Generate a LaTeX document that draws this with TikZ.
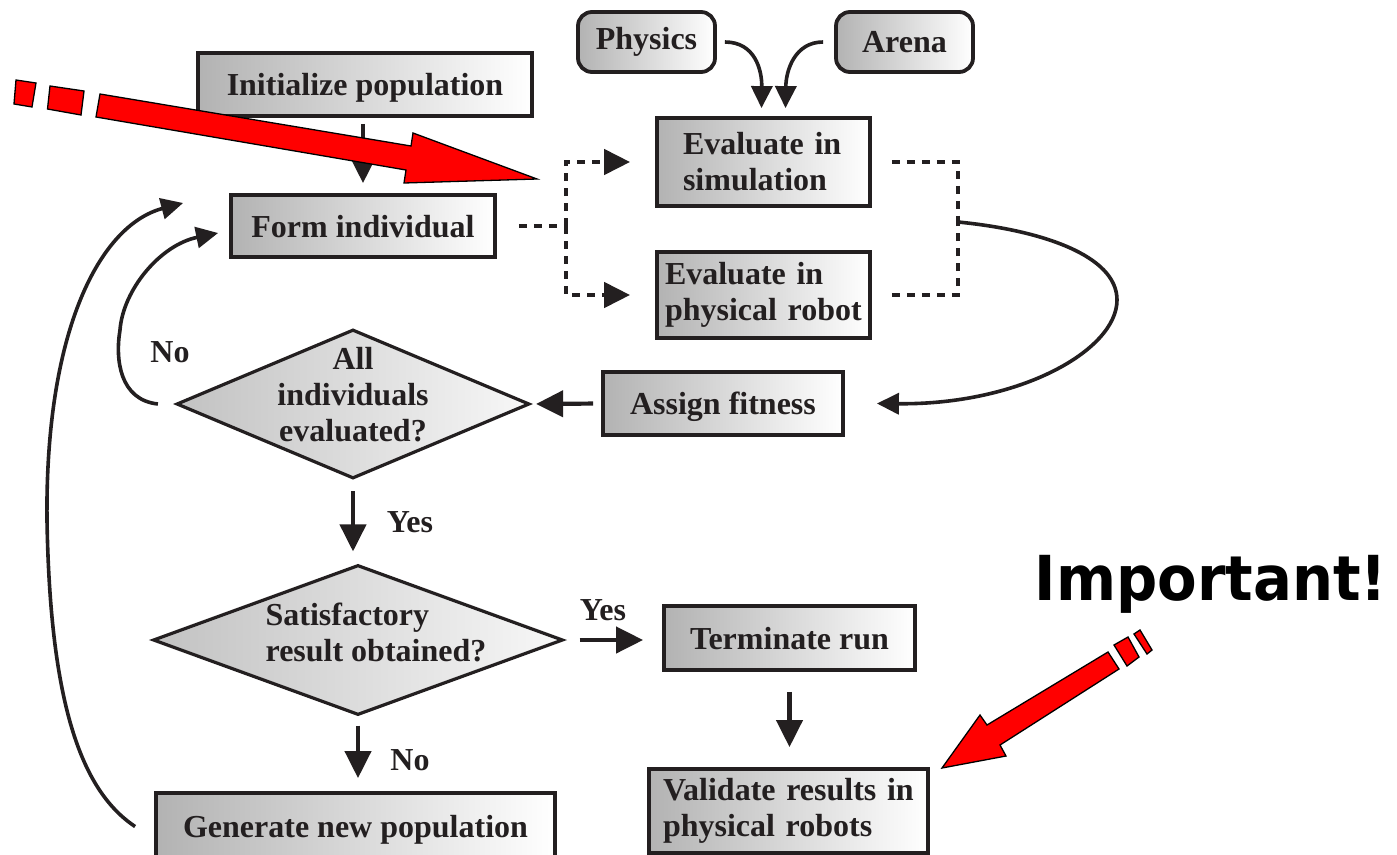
\documentclass[tikz,border=0pt]{standalone}
\usepackage{fontspec}
\setmainfont{Liberation Serif}
\newfontfamily\impfont{DejaVu Sans}[FakeStretch=0.93]
\usetikzlibrary{arrows.meta,shapes.geometric}

\definecolor{ink}{HTML}{231F20}

\tikzset{
  stepbox/.style={draw=ink, line width=3.8pt, left color=black!30, right color=white, inner sep=0pt},
  onelinebox/.style={stepbox, text depth=0pt},
  roundbox/.style={stepbox, rounded corners=14pt},
  decision/.style={draw=ink, line width=3.2pt, shape=diamond, left color=black!24, right color=black!3, inner sep=0pt},
  flowarrow/.style={draw=ink, line width=4.2pt, -{Triangle[length=27pt,width=26pt]}},
  curvearrow/.style={draw=ink, line width=3.6pt, -{Triangle[length=22pt,width=21pt]}},
  dotline/.style={draw=ink, line width=4.5pt, dash pattern=on 8pt off 7pt},
  dotarrow/.style={dotline, -{Triangle[length=26pt,width=25pt]}},
  flag/.style={fill=red, draw=black, line width=1.3pt, line join=miter},
}

\begin{document}
\begin{tikzpicture}[x=1pt, y=-1pt, font=\fontsize{32}{36}\selectfont\bfseries, text=ink]
\useasboundingbox (0,0) rectangle (1397,854);

% --- process steps ---
\node[onelinebox, minimum width=334pt, minimum height=63pt] (init) at (365,84.5) {Initialize population};
\node[onelinebox, minimum width=264pt, minimum height=62pt] (form) at (363,226) {Form individual};
\node[roundbox, minimum width=137pt, minimum height=60pt] (phys) at (646.5,42) {Physics};
\node[roundbox, minimum width=137pt, minimum height=60pt] (arena) at (904.5,42) {Arena};
\node[stepbox, text width=161pt, inner xsep=26pt, minimum height=88pt, align=left] (sim) at (763.5,162) {Evaluate in\\simulation};
\node[stepbox, text width=197pt, inner xsep=8pt, minimum height=86pt, align=left] (rob) at (763.5,295) {Evaluate in\\physical robot};
\node[onelinebox, minimum width=240pt, minimum height=63pt] (fit) at (723,403.5) {Assign fitness};
\node[decision, minimum width=353pt, minimum height=149pt,
      label={[yshift=9pt, align=center]center:All\\individuals\\evaluated?}] (allq) at (353,404) {};
\node[decision, minimum width=410pt, minimum height=150pt,
      label={[xshift=18pt, yshift=8pt, align=left]center:Satisfactory\\result obtained?}] (sat) at (358,640) {};
\node[onelinebox, minimum width=251pt, minimum height=64pt] (term) at (789.5,638) {Terminate run};
\node[stepbox, text width=251pt, inner xsep=14pt, minimum height=84pt, align=left] (valid) at (788.5,811) {Validate results in\\physical robots};
\node[onelinebox, minimum width=399pt, minimum height=67pt] (gen) at (355.5,826.5) {Generate new population};

% --- main flow ---
\draw[flowarrow, shorten <=6pt, shorten >=10pt] (init.south -| form.north) -- (form.north);
\draw[flowarrow, shorten <=8pt, shorten >=5pt] (fit.west) -- (allq.east);
\draw[flowarrow, shorten <=11pt, shorten >=12pt] (allq.south) -- (allq.south |- sat.north);
\draw[flowarrow, shorten <=15pt, shorten >=19pt] (sat.east) -- (sat.east -| term.west);
\draw[flowarrow, shorten <=9pt, shorten >=13pt] (sat.south) -- (sat.south |- gen.north);
\draw[flowarrow, shorten <=20pt, shorten >=20pt] (term.south) -- (term.south |- valid.north);

% --- branch to the two evaluations ---
\coordinate (split) at (566,226);
\coordinate (merge) at (958,222);
\draw[dotline, shorten <=22pt] (form.east) -- (split);
\draw[dotarrow, shorten >=25pt] (split) |- (sim.west);
\draw[dotarrow, shorten >=25pt] (split) |- (rob.west);
\draw[dotline, shorten <=20pt] (sim.east) -| (merge);
\draw[dotline, shorten <=20pt] (rob.east) -| (merge);
\draw[curvearrow] (merge) .. controls (1040,230) and (1117,255) .. (1117,300)
      .. controls (1117,350) and (1020,405) .. ([xshift=32pt]fit.east);

% --- simulator inputs ---
\draw[curvearrow] ([xshift=8pt]phys.east) .. controls (755,42) and (762,70) .. ([xshift=-2pt, yshift=8pt]sim.north);
\draw[curvearrow] ([xshift=-11pt]arena.west) .. controls (795,42) and (786,70) .. ([xshift=22pt, yshift=8pt]sim.north);

% --- loops back to forming individuals ---
\draw[curvearrow] ([xshift=-17pt]allq.west) .. controls (120,400) and (115,360) .. (120,330)
      .. controls (123,290) and (160,245) .. ([xshift=-11pt, yshift=-7pt]form.west);
\draw[curvearrow] ([xshift=-19pt]gen.west) .. controls (80,790) and (50,700) .. (47,520)
      .. controls (45,330) and (100,225) .. ([xshift=-46pt, yshift=23pt]form.west);

% --- branch labels ---
\node (no1) at (170,352) {No};
\node (yes1) at (410,522) {Yes};
\node (yes2) at (603,610) {Yes};
\node (no2) at (410,760) {No};

% --- emphasis ---
\node[anchor=base, text=black, font=\impfont\fontsize{62}{62}\selectfont\bfseries] (imp) at (1211,600) {Important!};

\filldraw[flag] (100,94) -- (411,146) -- (413,133) -- (537,179) -- (404,183) -- (406,170) -- (96,117) -- cycle;
\filldraw[flag] (50,86) -- (84,91) -- (81,115) -- (47.5,109) -- cycle;
\filldraw[flag] (16,80) -- (36,83) -- (32,107) -- (14,104) -- cycle;

\filldraw[flag] (942,768) -- (980,715) -- (987,725) -- (1108,652) -- (1119,669) -- (1000,745) -- (1006,756) -- cycle;
\filldraw[flag] (1114,645) -- (1128,637) -- (1139,657) -- (1127,666) -- cycle;
\filldraw[flag] (1134,634) -- (1140,630) -- (1152,650) -- (1147,654) -- cycle;
\end{tikzpicture}
\end{document}
